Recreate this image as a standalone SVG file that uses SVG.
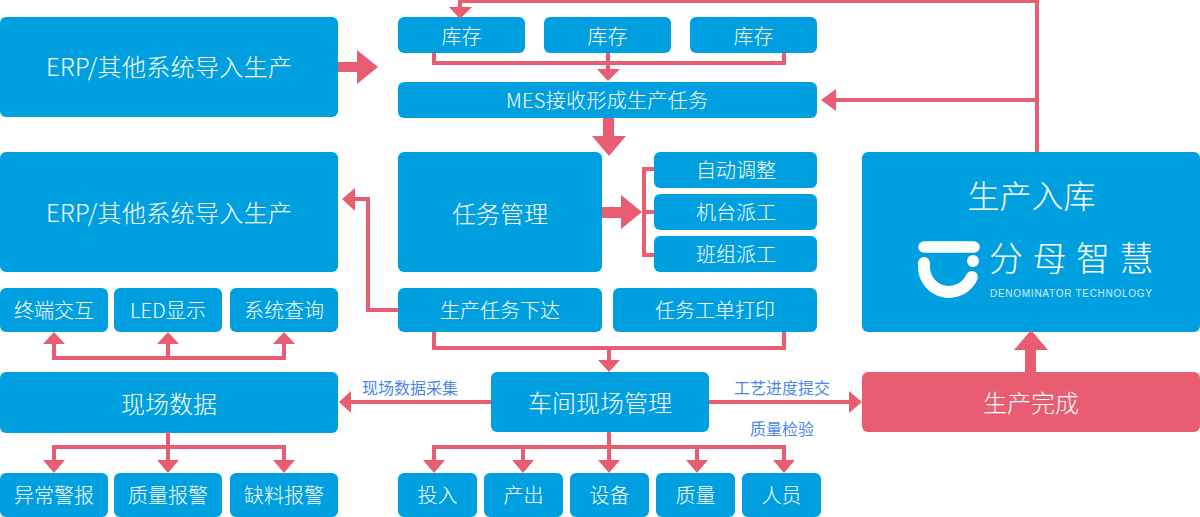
<svg xmlns="http://www.w3.org/2000/svg" width="1200" height="517" viewBox="0 0 1200 517">
<style>
.n{fill:#009fe0}
.r{fill:#e85d72}
text{font-family:"Noto Sans CJK SC","Noto Sans",sans-serif;font-weight:300;text-anchor:middle;fill:#fff;dominant-baseline:central}
.s{font-size:20px}
.m{font-size:24px}
.b{font-size:32px}
.l{font-size:16px;fill:#4a86ee;font-weight:400}
.c{fill:none;stroke:#e85d72;stroke-width:4}
</style>
<g id="erp1"><rect class="n" y="17" width="338" height="100" rx="6"/><text class="m" x="169" y="65.500" textLength="246">ERP/其他系统导入生产</text></g>
<g id="erp2"><rect class="n" y="152" width="338" height="120" rx="6"/><text class="m" x="169" y="211.500" textLength="246">ERP/其他系统导入生产</text></g>
<g id="stock1"><rect class="n" x="398" y="17" width="127" height="36" rx="6"/><text class="s" x="461.500" y="35">库存</text></g>
<g id="stock2"><rect class="n" x="544" y="17" width="127" height="36" rx="6"/><text class="s" x="607.500" y="35">库存</text></g>
<g id="stock3"><rect class="n" x="690" y="17" width="127" height="36" rx="6"/><text class="s" x="753.500" y="35">库存</text></g>
<g id="mes"><rect class="n" x="398" y="82" width="419" height="36" rx="6"/><text class="s" x="607" y="99.500" textLength="202">MES接收形成生产任务</text></g>
<g id="task"><rect class="n" x="398" y="152" width="204" height="120" rx="6"/><text class="m" x="500" y="212">任务管理</text></g>
<g id="auto"><rect class="n" x="654" y="152" width="163" height="36" rx="6"/><text class="s" x="736" y="169.500">自动调整</text></g>
<g id="machine"><rect class="n" x="654" y="194" width="163" height="36" rx="6"/><text class="s" x="736" y="211.500">机台派工</text></g>
<g id="team"><rect class="n" x="654" y="236" width="163" height="36" rx="6"/><text class="s" x="736" y="253.500">班组派工</text></g>
<g id="issue"><rect class="n" x="398" y="288" width="204" height="44" rx="6"/><text class="s" x="500" y="309.500">生产任务下达</text></g>
<g id="print"><rect class="n" x="613" y="288" width="204" height="44" rx="6"/><text class="s" x="715" y="309.500">任务工单打印</text></g>
<g id="store"><rect class="n" x="862" y="152" width="338" height="180" rx="6"/><text class="b" x="1031.500" y="194">生产入库</text>
<path d="M924 247H974" fill="none" stroke="#fff" stroke-width="11.500" stroke-linecap="round"/><path d="M924 263V267A25 25 0 0 0 971.900 277" fill="none" stroke="#fff" stroke-width="12" stroke-linecap="round"/><circle cx="973" cy="261" r="6" fill="#fff"/>
<text x="989" y="256" style="font-size:34px;letter-spacing:9.500px;text-anchor:start">分母智慧</text>
<text x="1071" y="293" style="font-size:10px;fill:#d5edf9;font-family:'Liberation Sans',sans-serif" textLength="162">DENOMINATOR TECHNOLOGY</text></g>
<g id="done"><rect x="862" y="372" width="338" height="60" rx="6" fill="#e85d72"/><text class="m" x="1031" y="401.500">生产完成</text></g>
<g id="term"><rect class="n" y="288" width="108" height="44" rx="6"/><text class="s" x="54" y="309.500">终端交互</text></g>
<g id="led"><rect class="n" x="114" y="288" width="108" height="44" rx="6"/><text class="s" x="168" y="309.500" textLength="76">LED显示</text></g>
<g id="query"><rect class="n" x="230" y="288" width="108" height="44" rx="6"/><text class="s" x="284" y="309.500">系统查询</text></g>
<g id="field"><rect class="n" y="372" width="338" height="61" rx="6"/><text class="m" x="169" y="402">现场数据</text></g>
<g id="workshop"><rect class="n" x="491" y="372" width="218" height="60" rx="6"/><text class="m" x="600" y="401.500">车间现场管理</text></g>
<g id="a1"><rect class="n" y="473" width="108" height="44" rx="6"/><text class="s" x="54" y="494.500">异常警报</text></g>
<g id="a2"><rect class="n" x="114" y="473" width="108" height="44" rx="6"/><text class="s" x="168" y="494.500">质量报警</text></g>
<g id="a3"><rect class="n" x="230" y="473" width="108" height="44" rx="6"/><text class="s" x="284" y="494.500">缺料报警</text></g>
<g id="b1"><rect class="n" x="398" y="473" width="79" height="44" rx="6"/><text class="s" x="437.500" y="494.500">投入</text></g>
<g id="b2"><rect class="n" x="484" y="473" width="79" height="44" rx="6"/><text class="s" x="523.500" y="494.500">产出</text></g>
<g id="b3"><rect class="n" x="570" y="473" width="79" height="44" rx="6"/><text class="s" x="609.500" y="494.500">设备</text></g>
<g id="b4"><rect class="n" x="656" y="473" width="79" height="44" rx="6"/><text class="s" x="695.500" y="494.500">质量</text></g>
<g id="b5"><rect class="n" x="742" y="473" width="79" height="44" rx="6"/><text class="s" x="781.500" y="494.500">人员</text></g>
<text class="l" x="410" y="387">现场数据采集</text>
<text class="l" x="782" y="387">工艺进度提交</text>
<text class="l" x="782" y="428">质量检验</text>
<g id="connectors">
<path class="c" d="M1037 152V1H460V8M1037 100H835"/>
<path class="c" d="M434 53V63H784V53M608 53V70"/>
<path class="c" d="M654 169H644V255H654M642 212H654"/>
<path class="c" d="M398 310H368V199H354"/>
<path class="c" d="M434 332V348H784V332M609 348V361"/>
<path class="c" d="M491 402H350M709 402H850"/>
<path class="c" d="M434 460V447H784V460M523 447V460M609 432V460M697 447V460"/>
<path class="c" d="M54 344V358H284V344M168 344V358"/>
<path class="c" d="M54 460V447H284V460M168 432V460"/>
<g class="r">
<path d="M449 7H472L460 19Z"/>
<path d="M338 62H357V50L378 67L357 84V72H338Z"/>
<path d="M597 69H620L608 81Z"/>
<path d="M603 118H614V136H626L609 156L592 136H603Z"/>
<path d="M836 89V111L821 100Z"/>
<path d="M602 207H621V195L642 212L621 229V218H602Z"/>
<path d="M355 188V211L342 199Z"/>
<path d="M598 360H620L609 372Z"/>
<path d="M351 391V413L339 402Z"/>
<path d="M849 391V413L862 402Z"/>
<path d="M423 460H445L434 473ZM512 460H534L523 473ZM598 460H620L609 473ZM686 460H708L697 473ZM773 460H795L784 473Z"/>
<path d="M43 344H65L54 332ZM157 344H179L168 332ZM273 344H295L284 332Z"/>
<path d="M43 460H65L54 473ZM157 460H179L168 473ZM273 460H295L284 473Z"/>
<path d="M1025 372V350H1014L1031 330L1048 350H1036V372Z"/>
</g>
</g>
</svg>
